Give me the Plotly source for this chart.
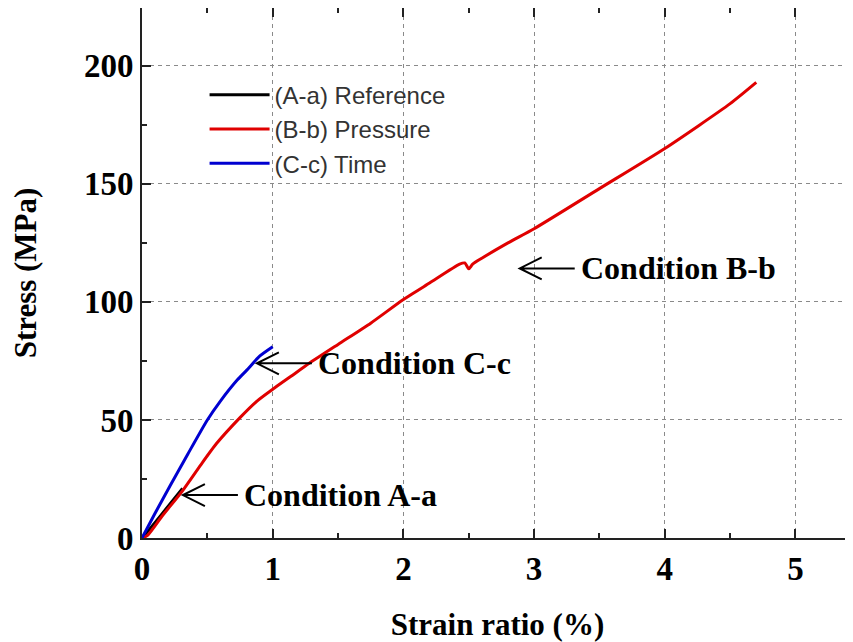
import plotly.graph_objects as go

# ---- data ----
ref_x = [0, 0.05, 0.15, 0.31]
ref_y = [0, 3.2, 10, 21]

pres_x = [0, 0.04, 0.15, 0.31, 0.45, 0.57, 0.75, 0.88, 1.0, 1.14, 1.28, 1.5, 1.75, 2.0,
          2.2, 2.43, 2.47, 2.5, 2.53, 2.6, 2.8, 3.0, 3.5, 4.0, 4.5, 4.7]
pres_y = [0, 1, 9, 20, 31, 40, 51, 58, 63, 68.5, 74, 82, 91, 101,
          108, 116, 116.5, 114, 116, 118.5, 125, 131, 148, 165, 184, 193]

time_x = [0, 0.1, 0.214, 0.35, 0.5, 0.6, 0.73, 0.8, 0.9, 1.0]
time_y = [0, 10.5, 22, 35.5, 50, 58, 67, 71, 77, 81]

series_names = ["(A-a) Reference", "(B-b) Pressure", "(C-c) Time"]
series_colors = ["#000000", "#e00000", "#0000d0"]

x_ticks = [0, 1, 2, 3, 4, 5]
y_ticks = [0, 50, 100, 150, 200]

# annotation targets (arrow heads) and labels
ann_labels = ["Condition A-a", "Condition C-c", "Condition B-b"]
ann_x = [0.313, 0.879, 2.89]
ann_y = [18.2, 74, 114.2]

SERIF = "Liberation Serif, Times New Roman, serif"

fig = go.Figure()
for xs, ys, name, col in zip([ref_x, pres_x, time_x], [ref_y, pres_y, time_y],
                             series_names, series_colors):
    fig.add_trace(go.Scatter(x=xs, y=ys, mode="lines", name=name,
                             line=dict(color=col, width=3, shape="spline", smoothing=0.6)))

# open-headed arrows, pixel-sized paths anchored at the data points they point to
for lx, ly, txt in zip(ann_x, ann_y, ann_labels):
    fig.add_shape(type="path", xref="x", yref="y", xsizemode="pixel", ysizemode="pixel",
                  xanchor=lx, yanchor=ly,
                  path="M0,0 L55,0 M22,11 L0,0 L22,-11",
                  line=dict(color="black", width=2))
    fig.add_annotation(x=lx, y=ly, xref="x", yref="y", text=f"<b>{txt}</b>", showarrow=False,
                       xanchor="left", yanchor="middle", xshift=59,
                       font=dict(family=SERIF, size=32, color="black"))

# the page adds an ~8px body margin, so the figure is sized to fit the window after it
fig.update_layout(
    width=845, height=634,
    margin=dict(l=134, r=0, t=0, b=104, autoexpand=False),
    plot_bgcolor="white", paper_bgcolor="white",
    showlegend=True,
    font=dict(family=SERIF),
    legend=dict(x=0.088, y=0.878, xanchor="left", yanchor="top",
                bgcolor="rgba(0,0,0,0)", borderwidth=0,
                font=dict(family="Liberation Sans, Arial, sans-serif", size=24, color="#333333"),
                itemwidth=60, tracegroupgap=0),
)

fig.update_xaxes(
    range=[0, 5.44], tickvals=x_ticks, ticktext=[f"<b>{v}</b>" for v in x_ticks],
    showline=True, linecolor="#222", linewidth=2, mirror="ticks",
    ticks="inside", ticklen=9, tickwidth=2, tickcolor="#222",
    minor=dict(dtick=0.5, ticks="inside", ticklen=5, tickwidth=1.5, tickcolor="#222", showgrid=False),
    showgrid=True, gridcolor="#8a8a8a", gridwidth=1, griddash="4px,4px",
    zeroline=False, automargin=False,
    tickfont=dict(family=SERIF, size=33, color="black"),
    title=dict(text="<b>Strain ratio (%)</b>", font=dict(family=SERIF, size=31, color="black"), standoff=36),
)
fig.update_yaxes(
    range=[0, 224.5], tickvals=y_ticks, ticktext=[f"<b>{v}</b>" for v in y_ticks],
    showline=True, linecolor="#222", linewidth=2, mirror=False,
    ticks="inside", ticklen=9, tickwidth=2, tickcolor="#222",
    minor=dict(dtick=25, ticks="inside", ticklen=5, tickwidth=1.5, tickcolor="#222", showgrid=False),
    showgrid=True, gridcolor="#8a8a8a", gridwidth=1, griddash="4px,4px",
    zeroline=False, automargin=False,
    tickfont=dict(family=SERIF, size=33, color="black"),
    title=dict(text="<b>Stress (MPa)</b>", font=dict(family=SERIF, size=31, color="black"), standoff=45),
)

fig.write_html("out.html")
